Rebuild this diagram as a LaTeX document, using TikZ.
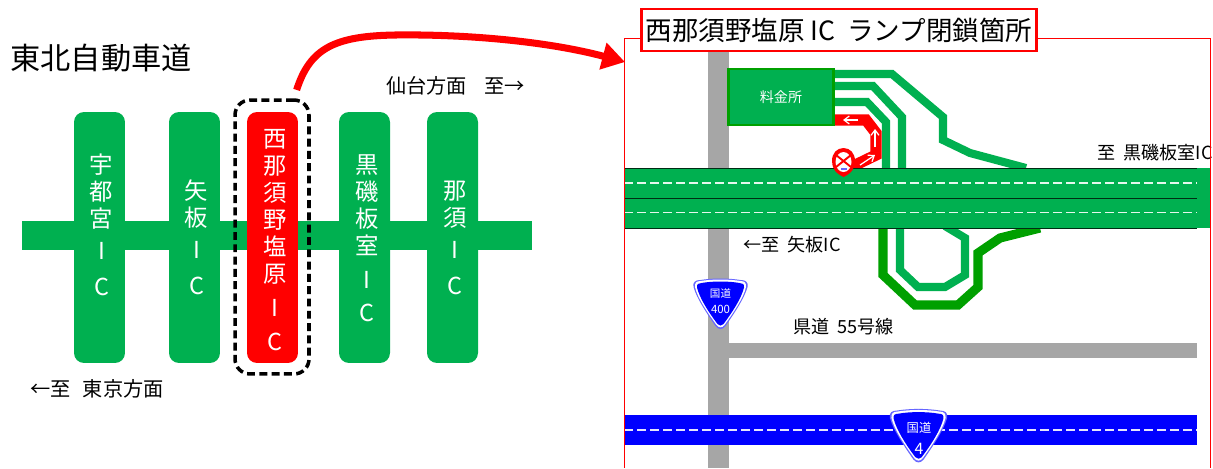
\documentclass[tikz,border=0pt]{standalone}
\usepackage{fontspec}
\setmainfont{Noto Sans CJK JP}
\usetikzlibrary{arrows.meta}
\definecolor{roadgreen}{HTML}{00B050}
\definecolor{rampgreen}{HTML}{00A000}
\definecolor{roadgray}{HTML}{A6A6A6}
\definecolor{roadblue}{HTML}{0000FF}
\tikzset{
  icbox/.style={fill=roadgreen,rounded corners=0.2cm,minimum width=1.02cm,minimum height=5.02cm,inner sep=0pt},
  ictext/.style={text=white,inner sep=0pt,align=center,font=\fontsize{13.3}{15.3}\selectfont},
  lbl/.style={inner sep=0pt,anchor=west,font=\fontsize{11.5}{13}\selectfont},
  maplbl/.style={inner sep=0pt,anchor=west,font=\fontsize{10.3}{12}\selectfont},
  centerdash/.style={white!90!roadgreen,line width=0.9pt,dash pattern=on 5pt off 2.4pt},
  ramplight/.style={roadgreen,line width=4.6pt,miter limit=4},
  rampdark/.style={rampgreen,line width=5.2pt,miter limit=4},
  thinwhite/.style={white,line width=0.7pt,-{Straight Barb[length=3pt,width=4.5pt]}},
}
\begin{document}
\begin{tikzpicture}[x=0.02cm,y=-0.02cm]
\clip (0,0) rectangle (1213,468);
\fill[white] (0,0) rectangle (1213,468);
%%% the expressway on the left
\fill[roadgreen] (22,221) rectangle (532,250);
\node[icbox] (utsunomiya) at (99.5,237.5) {};
\node[icbox] (yaita) at (194.5,237.5) {};
\node[icbox,fill=red] (nishinasu) at (272.5,237.5) {};
\node[icbox] (kuroiso) at (364.5,237.5) {};
\node[icbox] (nasu) at (452.5,237.5) {};
\node[ictext] (utsunomiyaname) at (101.5,225) {宇\\都\\宮\\[3pt]I\\[5pt]C};
\node[ictext] (yaitaname) at (196.5,237.5) {矢\\板\\[3pt]I\\[5pt]C};
\node[ictext] (nishinasuname) at (275,240) {西\\那\\須\\野\\塩\\原\\[4pt]I\\[4pt]C};
\node[ictext] (kuroisoname) at (367,238.5) {黒\\磯\\板\\室\\[4pt]I\\[4pt]C};
\node[ictext] (nasuname) at (455,238) {那\\須\\[3pt]I\\[5pt]C};
\node[draw,line width=2pt,rounded corners=0.3cm,minimum width=1.48cm,minimum height=5.48cm,inner sep=0pt,
  dash pattern=on 4.5pt off 2.5pt] (selbox) at (272,237) {};
\node[lbl,font=\fontsize{17.2}{20}\selectfont] (title) at (10,58) {東北自動車道};
\node[lbl] (sendai) at (386,86) {仙台方面\hspace{0.85em}至→};
\node[lbl] (tokyo) at (30,389) {←至\hspace{0.6em}東京方面};
%%% the map on the right
\fill[roadgray] (708,52) rectangle (729,468);
\fill[roadgray] (729,343) rectangle (1197,358);
\fill[roadblue] (624,415) rectangle (1197,445);
\draw[white!90!roadblue,line width=0.9pt,dash pattern=on 5pt off 2.4pt] (624,430) -- (1197,430);
%%% ramps above the road
\draw[ramplight] (830,74) -- (892,74) -- (943,117) -- (943,140) -- (970,153) -- (1026,168);
\draw[ramplight] (830,86) -- (873,86) -- (902,117) -- (902,170);
\draw[ramplight] (830,102) -- (867,102) -- (886,122) -- (886,170);
\draw[red,line width=6.4pt] (830,120) -- (866,120) -- (876,133) -- (876,155) -- (845,170);
\draw[thinwhite] (858,120) -- (843,120);
\draw[thinwhite] (875,147) -- (875,129);
\draw[thinwhite] (860,165) -- (875,155);
%%% ramps below the road
\draw[rampdark] (883,225) -- (883,275) -- (915,305) -- (958,305) -- (978,287) -- (978,253) -- (1000,238) -- (1040,228);
\draw[ramplight] (900,225) -- (900,270) -- (918,287) -- (945,287) -- (965,275) -- (965,238) -- (945,226);
%%% the main road
\fill[roadgreen] (624,168) rectangle (1210,228);
\foreach \liney in {168,198,228}
  \draw[black!75!roadgreen,line width=0.4pt] (624,\liney) -- (1197,\liney);
\foreach \liney in {183,212.5}
  \draw[centerdash] (624,\liney) -- (1197,\liney);
\node[draw=rampgreen,fill=roadgreen,line width=1.2pt,text=white,minimum width=2.1cm,minimum height=1.12cm,inner sep=0pt,
  font=\fontsize{8}{10}\selectfont] (tollgate) at (781,97) {料金所};
%%% no entry mark
\fill[red] (843.5,177) .. controls (835,173) and (832,168) .. (832,161) .. controls (832,153) and (837,148) .. (843.5,148)
  .. controls (850,148) and (855,153) .. (855,161) .. controls (855,168) and (852,173) .. (843.5,177) -- cycle;
\fill[white] (843.5,162) ellipse (8 and 10);
\draw[red,line width=1.1pt] (836,155) -- (851,167) (851,155) -- (836,167);
\fill[roadblue!60!white] (840.5,167.5) rectangle (847,170);
%%% route marks
\foreach \signx/\signy/\signs in {720.5/305/1,918.5/437/1.06}{
  \begin{scope}[shift={(\signx,\signy)},scale=\signs]
    \fill[roadblue!60!white] (-27,-18) .. controls (-28,-23) and (-25,-25) .. (-20,-25)
      .. controls (-8,-27) and (8,-27) .. (20,-25) .. controls (25,-25) and (28,-23) .. (27,-18)
      .. controls (24,-7) and (14,8) .. (5,21) .. controls (2,25) and (-2,25) .. (-5,21)
      .. controls (-14,8) and (-24,-7) .. (-27,-18) -- cycle;
    \fill[white] (-25.5,-18) .. controls (-26,-22) and (-24,-24) .. (-20,-24)
      .. controls (-8,-26) and (8,-26) .. (20,-24) .. controls (24,-24) and (26,-22) .. (25.5,-18)
      .. controls (23,-7) and (13,7.5) .. (4,20) .. controls (2,23) and (-2,23) .. (-4,20)
      .. controls (-13,7.5) and (-23,-7) .. (-25.5,-18) -- cycle;
    \fill[roadblue] (-23.5,-17.5) .. controls (-24,-21) and (-22,-22) .. (-19,-22)
      .. controls (-8,-24) and (8,-24) .. (19,-22) .. controls (22,-22) and (24,-21) .. (23.5,-17.5)
      .. controls (21,-7) and (12,7) .. (3,19) .. controls (1.5,21) and (-1.5,21) .. (-3,19)
      .. controls (-12,7) and (-21,-7) .. (-23.5,-17.5) -- cycle;
  \end{scope}
}
\node[text=white,inner sep=0pt,font=\fontsize{6}{7}\selectfont] (sign400a) at (720.5,293) {国道};
\node[text=white,inner sep=0pt,font=\fontsize{6.5}{7}\selectfont] (sign400b) at (720.5,309) {400};
\node[text=white,inner sep=0pt,font=\fontsize{7}{8}\selectfont] (sign4a) at (919,428) {国道};
\node[text=white,inner sep=0pt,font=\fontsize{9}{10}\selectfont] (sign4b) at (919,449) {4};
%%% labels
\node[maplbl] (toyaita) at (743,245) {←至\ \ 矢板IC};
\node[maplbl] (tokuroiso) at (1097,153) {至\ \ 黒磯板室IC};
\node[maplbl] (route55) at (793,327) {県道\ \ 55号線};
%%% frame and its heading
\draw[red,line width=0.5pt] (624,468) -- (624,38) -- (1210.5,38) -- (1210.5,468);
\node[draw=red,fill=white,line width=1.5pt,minimum width=7.9cm,minimum height=0.84cm,inner sep=0pt,
  font=\fontsize{15.1}{18}\selectfont] (maphead) at (839,30) {西那須野塩原 IC\ \ ランプ閉鎖箇所};
%%% link from the interchange to the map
\coordinate (mapedge) at (625,62);
\draw[red,line width=4pt,shorten <=5pt,-{Triangle[length=13pt,width=15pt]}] (selbox.81)
  .. controls (310,48) and (335,36) .. (395,35) .. controls (470,34) and (550,42) .. (mapedge);
\end{tikzpicture}
\end{document}
